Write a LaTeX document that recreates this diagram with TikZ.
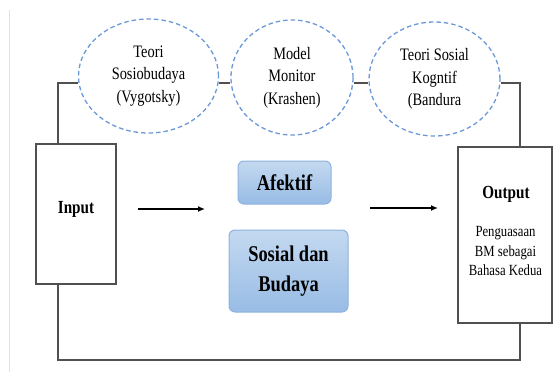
\documentclass[tikz,border=0pt]{standalone}
\usepackage{fontspec}
\setmainfont[FakeStretch=0.82]{Liberation Serif}
\usetikzlibrary{shapes.geometric,arrows.meta}
\definecolor{dashblue}{HTML}{6A98D8}
\definecolor{linegray}{HTML}{505050}
\definecolor{boxtop}{HTML}{C4D9F0}
\definecolor{boxbot}{HTML}{98BCE5}
\definecolor{boxedge}{HTML}{8DB2DF}
\begin{document}
\begin{tikzpicture}[x=1pt,y=-1pt,
  theory/.style={ellipse, draw=dashblue, dash pattern=on 4.5pt off 3pt, line width=1.3pt, inner sep=0pt, align=center, font=\fontsize{17.5}{22.5}\selectfont},
  iobox/.style={draw=linegray, line width=1.1pt, fill=white, inner sep=0pt},
  factor/.style={draw=boxedge, line width=1pt, rounded corners=6pt, top color=boxtop, bottom color=boxbot, align=center, font=\bfseries\fontsize{22.5}{30}\selectfont, inner sep=0pt},
  conn/.style={draw=linegray, line width=1.1pt},
  flow/.style={draw=black, line width=1.8pt, -{Latex[length=7pt,width=6pt]}},
  iotitle/.style={font=\bfseries\fontsize{18.5}{21}\selectfont, inner sep=0pt},
  iosub/.style={font=\fontsize{15.5}{19.5}\selectfont, align=center, inner sep=0pt}]

\useasboundingbox (0,0) rectangle (553,372);
\draw[draw=black!12, line width=0.8pt] (9.5,10) -- (9.5,372);

% theories
\node[theory, minimum width=140pt, minimum height=114pt] (e1) at (148.5,76) {Teori\\Sosiobudaya\\(Vygotsky)};
\node[theory, minimum width=122pt, minimum height=115pt] (e2) at (292,77.5) {Model\\Monitor\\(Krashen)};
\node[theory, minimum width=131pt, minimum height=114pt] (e3) at (434.5,79) {Teori Sosial\\Kogntif\\(Bandura};

% input / output boxes
\node[iobox, minimum width=80pt, minimum height=140pt] (input) at (76,214) {};
\node[iotitle] (intext) at (76,209) {Input};
\node[iobox, minimum width=94pt, minimum height=176pt] (output) at (505,235) {};
\node[iotitle] (outtext) at (506,194.5) {Output};
\node[iosub] (outsub) at (505.5,251) {Penguasaan\\BM sebagai\\Bahasa Kedua};

% factors
\node[factor, minimum width=93pt, minimum height=43pt] (afektif) at (284.5,182.5) {Afektif};
\node[factor, minimum width=119pt, minimum height=82pt] (sosial) at (288.5,271) {Sosial dan\\Budaya};

% connectors
\draw[conn] ([yshift=-7pt]e1.west) -| ([xshift=-18pt]input.north);
\draw[conn] ([yshift=-7pt]e1.east) -- ([yshift=-7pt]e1.east -| e2.west);
\draw[conn] ([yshift=-7pt]e1.east -| e2.east) -- ([yshift=-7pt]e1.east -| e3.west);
\draw[conn] ([yshift=-7pt]e1.east -| e3.east) -| ([xshift=15pt]output.north);
\coordinate (bl) at (58,360);
\coordinate (br) at (520,360);
\draw[conn] ([xshift=-18pt]input.south) -- (bl) -- (br) -- ([xshift=15pt]output.south);

% flow arrows
\coordinate (a1s) at (138,209);
\coordinate (a1e) at (205,209);
\coordinate (a2s) at (370,208);
\coordinate (a2e) at (438,208);
\draw[flow] (a1s) -- (a1e);
\draw[flow] (a2s) -- (a2e);
\end{tikzpicture}
\end{document}
